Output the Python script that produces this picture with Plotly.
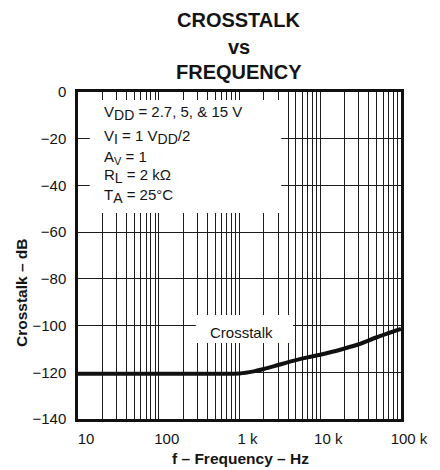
import plotly.graph_objects as go

# ---- data ----
freq_hz = [10, 20, 50, 100, 200, 500, 1000, 1500, 2000, 3000, 5000, 7000,
           10000, 20000, 30000, 50000, 100000]
crosstalk_db = [-120.6, -120.6, -120.6, -120.6, -120.6, -120.6, -120.5, -119.6,
                -118.6, -116.9, -114.8, -113.6, -112.5, -109.8, -108.0, -105.0, -101.4]

decade_vals = [10, 100, 1000, 10000, 100000]
decade_labels = ["10", "100", "1 k", "10 k", "100 k"]
y_vals = [0, -20, -40, -60, -80, -100, -120, -140]
y_labels = ["0", "\u221220", "\u221240", "\u221260", "\u221280", "\u2212100", "\u2212120", "\u2212140"]

title_lines = ["CROSSTALK", "vs", "FREQUENCY"]
cond_lines = [
    "V<sub><span style='font-size:14px'>DD</span></sub> = 2.7, 5, &amp; 15 V",
    "V<sub><span style='font-size:14px'>I</span></sub> = 1 V<sub><span style='font-size:14px'>DD</span></sub>/2",
    "A<sub><span style='font-size:11px'>V</span></sub> = 1",
    "R<sub><span style='font-size:14px'>L</span></sub> = 2 k\u03a9",
    "T<sub><span style='font-size:14px'>A</span></sub> = 25\u00b0C",
]
series_label = "Crosstalk"
x_title = "f \u2013 Frequency \u2013 Hz"
y_title = "Crosstalk \u2013 dB"

# grid ticks: 1..9 per decade, labels only on decades
grid_vals, grid_text = [], []
for d, lab in zip(decade_vals[:-1], decade_labels[:-1]):
    for m in range(1, 10):
        grid_vals.append(m * d)
        grid_text.append(lab if m == 1 else "")
grid_vals.append(decade_vals[-1])
grid_text.append(decade_labels[-1])

FONT = "Liberation Sans, Arial, sans-serif"
INK = "#141414"

# the page body has an 8 px margin; positions below are page pixels
OFF = 8
W, H = 440 - OFF, 470 - OFF
PL, PT, PR, PB = 78, 92, 407, 419          # plot box in page pixels
L, T = PL - OFF, PT - OFF
R, B = W - (PR - OFF), H - (PB - OFF)
PW, PH = PR - PL, PB - PT


def px_x(px):
    return (px - PL) / PW


def px_y(py):
    return 1 - (py - PT) / PH


fig = go.Figure()
fig.add_trace(go.Scatter(x=freq_hz, y=crosstalk_db, mode="lines",
                         line=dict(color="#111111", width=4, shape="spline", smoothing=0.6),
                         hoverinfo="skip"))

fig.update_layout(
    width=W, height=H,
    margin=dict(l=L, r=R, t=T, b=B),
    paper_bgcolor="white", plot_bgcolor="white",
    showlegend=False,
    font=dict(family=FONT, color=INK),
    xaxis=dict(type="log", range=[1, 5], tickvals=grid_vals, ticktext=grid_text,
               showgrid=True, gridcolor="#1c1c1c", gridwidth=1,
               showline=True, linecolor="#111", linewidth=2.5, mirror=True,
               ticks="", zeroline=False, tickfont=dict(size=15, color=INK),
               ticklabelshift=8, ticklabelstandoff=4),
    yaxis=dict(range=[-140, 0], tickvals=y_vals, ticktext=y_labels,
               showgrid=True, gridcolor="#1c1c1c", gridwidth=1,
               showline=True, linecolor="#111", linewidth=2.5, mirror=True,
               ticks="", zeroline=False, tickfont=dict(size=15, color=INK),
               ticklabelstandoff=6),
)

shapes = [
    dict(type="rect", xref="paper", yref="paper",
         x0=px_x(90), x1=px_x(285), y0=px_y(213), y1=px_y(100),
         fillcolor="white", line=dict(width=0), layer="above"),
    dict(type="rect", xref="paper", yref="paper",
         x0=px_x(198), x1=px_x(297), y0=px_y(343), y1=px_y(315),
         fillcolor="white", line=dict(width=0), layer="above"),
]
fig.update_layout(shapes=shapes)

ann = []
for txt, cy in zip(title_lines, [20, 47, 72]):
    ann.append(dict(text="<b>%s</b>" % txt, xref="paper", yref="paper",
                    x=px_x(242), y=px_y(cy), xanchor="center", yanchor="middle",
                    showarrow=False, font=dict(size=20, family=FONT, color=INK)))
for txt, cy in zip(cond_lines, [113, 137, 157, 176, 196]):
    ann.append(dict(text=txt, xref="paper", yref="paper",
                    x=px_x(102), y=px_y(cy), xanchor="left", yanchor="middle",
                    showarrow=False, font=dict(size=15, family=FONT, color=INK)))
ann.append(dict(text=series_label, xref="paper", yref="paper",
                x=px_x(245), y=px_y(332), xanchor="center", yanchor="middle",
                showarrow=False, font=dict(size=15, family=FONT, color=INK)))
ann.append(dict(text="<b>%s</b>" % x_title, xref="paper", yref="paper",
                x=px_x(244), y=px_y(458), xanchor="center", yanchor="middle",
                showarrow=False, font=dict(size=15.5, family=FONT, color=INK)))
ann.append(dict(text="<b>%s</b>" % y_title, xref="paper", yref="paper",
                x=px_x(20), y=px_y(293), xanchor="center", yanchor="middle",
                textangle=-90, showarrow=False,
                font=dict(size=15.5, family=FONT, color=INK)))
fig.update_layout(annotations=ann)

fig.write_html("out.html")
